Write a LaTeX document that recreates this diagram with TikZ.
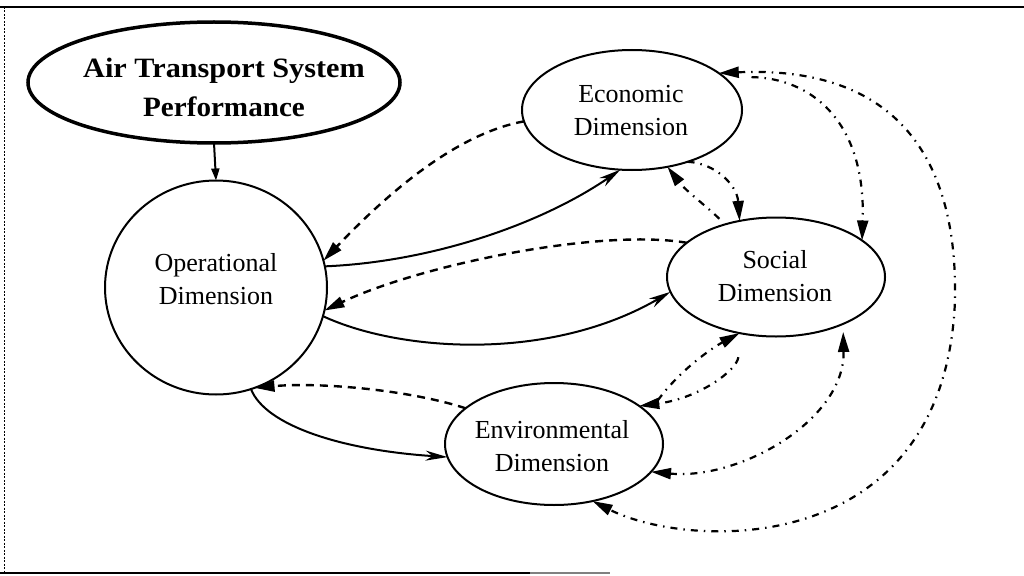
\documentclass[tikz,border=0pt]{standalone}
\usepackage{fontspec}
\usepackage{graphicx}
\setmainfont{Liberation Serif}
\usetikzlibrary{arrows.meta,shapes.geometric}
\begin{document}
\begin{tikzpicture}[x=1pt,y=-1pt,
  dim/.style={draw, ellipse, line width=2pt, inner sep=0pt, outer sep=0pt},
  lbl/.style={align=center, font=\fontsize{26}{33}\selectfont, inner sep=0pt},
  tipD/.tip={Triangle[length=20pt,width=11pt]},
  solidlink/.style={line width=2pt, -{Stealth[length=22pt,width=10pt,inset=7pt]}},
  dashlink/.style={line width=2.4pt, dash pattern=on 8pt off 6pt, -tipD},
  dotlink/.style={line width=2.2pt, dash pattern=on 7pt off 6pt on 1.5pt off 6pt, -tipD},
]
\useasboundingbox (0,0) rectangle (1024,575);
\fill[white] (0,0) rectangle (1024,575);
% frame
\draw[line width=2pt] (0,7) -- (1024,7);
\draw[line width=0.8pt, dash pattern=on 2pt off 1.5pt] (4,7) -- (4,573);
\draw[line width=2.5pt] (0,573) -- (530,573);
\draw[line width=1.2pt, black!50] (530,573) -- (610,573);

% nodes
\node[dim, minimum width=372pt, minimum height=121pt, line width=3.5pt] (ats) at (214,82.5) {};
\node[dim, minimum width=222pt, minimum height=214pt] (op) at (216,287.5) {};
\node[dim, minimum width=220pt, minimum height=120pt] (eco) at (632,110) {};
\node[dim, minimum width=218pt, minimum height=119pt] (soc) at (776,277) {};
\node[dim, minimum width=218pt, minimum height=122pt] (env) at (554,444) {};

\node[lbl, font=\fontsize{28}{39}\selectfont\bfseries] (atst) at (224,87)
  {\scalebox{1.08}[1]{Air Transport System}\\\scalebox{1.04}[1]{Performance}};
\node[lbl] (opt) at (216,279) {Operational\\Dimension};
\node[lbl] (ecot) at (631,111) {Economic\\Dimension};
\node[lbl] (soct) at (775,276) {Social\\Dimension};
\node[lbl] (envt) at (552,446) {Environmental\\Dimension};

% connectors
\draw[line width=2pt, -{Triangle[length=12pt,width=8pt]}] (ats.south) -- (op.north);
\draw[solidlink] (op.11) .. controls (430,262) and (540,225) .. (eco.259);
\draw[dashlink] (eco.186) .. controls (465,132) and (400,180) .. (op.14);
\draw[dashlink] (soc.159) .. controls (600,228) and (420,265) .. (op.-12);
\draw[solidlink] (op.-15) .. controls (400,352) and (550,362) .. (soc.188);
\draw[dashlink] (env.158) .. controls (410,390) and (320,382) .. (op.-69);
\draw[solidlink] (op.-71) .. controls (265,425) and (340,450) .. (env.187);

\draw[dotlink] (eco.-43) .. controls (715,163) and (737,185) .. (soc.123);
\draw[dotlink, shorten <=8pt] (soc.134) .. controls (705,205) and (685,190) .. (eco.-58);
\draw[dotlink, shorten <=28pt] (eco.20) .. controls (810,78) and (866,120) .. (soc.23);
\draw[dotlink, tipD-tipD] (eco.23) .. controls (880,66) and (958,140) .. (955,300)
      .. controls (945,560) and (690,550) .. (env.-56);
\draw[dotlink, tipD-tipD, shorten <=8pt] (soc.-35) .. controls (845,420) and (740,480) .. (env.-16);
\draw[dotlink, shorten <=16pt] (env.18) .. controls (680,370) and (712,348) .. (soc.237);
\draw[dotlink, shorten <=24pt] (soc.238) .. controls (737,370) and (700,398) .. (env.24);
\end{tikzpicture}
\end{document}
